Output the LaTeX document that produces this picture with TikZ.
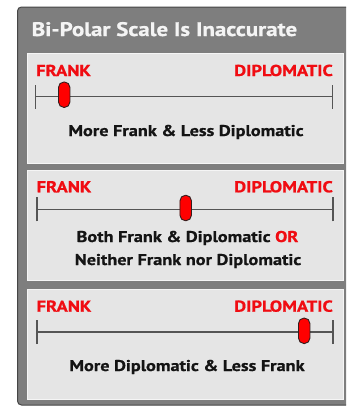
\documentclass[tikz,border=0pt]{standalone}
\usepackage{fontspec}
\setmainfont[FakeStretch=1.17, BoldFeatures={FakeBold=0.8}]{PT Sans}
\definecolor{outergray}{RGB}{126,126,126}
\definecolor{outerline}{RGB}{70,70,70}
\definecolor{panelgray}{RGB}{229,229,229}
\definecolor{panelline}{RGB}{245,245,245}
\definecolor{labelred}{RGB}{240,12,18}
\definecolor{titlewhite}{RGB}{244,244,244}
\definecolor{scaleline}{RGB}{85,85,85}
\definecolor{knobline}{RGB}{50,30,30}
\definecolor{bodyblack}{RGB}{20,20,20}
\tikzset{
  panelbox/.style={fill=panelgray, draw=panelline, line width=1pt},
  redlabel/.style={text=labelred, font=\fontsize{15.8}{18}\selectfont\bfseries, inner sep=0pt},
  bodytext/.style={text=bodyblack, font=\fontsize{15.6}{23}\selectfont\bfseries, inner sep=0pt, align=center},
  scalestroke/.style={draw=scaleline, line width=1.3pt},
  knobnode/.style={shape=rectangle, rounded corners=5.5pt, fill=red, draw=knobline, line width=0.9pt, minimum width=11.5pt, minimum height=25.5pt, inner sep=0pt},
}
\begin{document}
\begin{tikzpicture}[x=1pt,y=-1pt]
\useasboundingbox[fill=white] (0,0) rectangle (346,407);
\begin{scope}
\clip (0,0) rectangle (346,407);
\draw[fill=outergray, draw=outerline, line width=1pt, rounded corners=4pt] (17.5,7) rectangle (352,405);
\end{scope}
\node[anchor=base west, text=titlewhite, font=\fontsize{19.6}{22}\selectfont\bfseries, inner sep=0pt] (title) at (31.5,36) {Bi-Polar Scale Is Inaccurate};
% panel 1
\path[panelbox] (27,53) rectangle (343,163);
\node[redlabel, anchor=base west] (f1) at (36,76) {FRANK};
\node[redlabel, anchor=base east] (d1) at (333,76) {DIPLOMATIC};
\coordinate (l1a) at (35.7,96.5);
\coordinate (l1b) at (332.5,96.5);
\draw[scalestroke] (l1a) -- (l1b);
\draw[scalestroke] ([yshift=-12pt]l1a) -- ([yshift=12pt]l1a);
\draw[scalestroke] ([yshift=-12pt]l1b) -- ([yshift=12pt]l1b);
\node[knobnode] (k1) at (64.2,94.7) {};
\node[bodytext, anchor=base] (t1) at (186,136) {More Frank \& Less Diplomatic};
% panel 2
\path[panelbox] (27,170) rectangle (343,280);
\node[redlabel, anchor=base west] (f2) at (36.5,192.3) {FRANK};
\node[redlabel, anchor=base east] (d2) at (333,192.3) {DIPLOMATIC};
\coordinate (l2a) at (37,209.3);
\coordinate (l2b) at (333,209.3);
\draw[scalestroke] (l2a) -- (l2b);
\draw[scalestroke] ([yshift=-12pt]l2a) -- ([yshift=12pt]l2a);
\draw[scalestroke] ([yshift=-12pt]l2b) -- ([yshift=12pt]l2b);
\node[knobnode] (k2) at (185.7,208) {};
\node[bodytext, anchor=base] (t2a) at (187.5,242) {Both Frank \& Diplomatic \textcolor{labelred}{OR}};
\node[bodytext, anchor=base] (t2b) at (188,265) {Neither Frank nor Diplomatic};
% panel 3
\path[panelbox] (27,289) rectangle (343,399);
\node[redlabel, anchor=base west] (f3) at (36.5,311.7) {FRANK};
\node[redlabel, anchor=base east] (d3) at (333,311.7) {DIPLOMATIC};
\coordinate (l3a) at (37,332);
\coordinate (l3b) at (333,332);
\draw[scalestroke] (l3a) -- (l3b);
\draw[scalestroke] ([yshift=-12pt]l3a) -- ([yshift=12pt]l3a);
\draw[scalestroke] ([yshift=-12pt]l3b) -- ([yshift=12pt]l3b);
\node[knobnode] (k3) at (304.2,330.8) {};
\node[bodytext, anchor=base] (t3) at (187,371) {More Diplomatic \& Less Frank};
\end{tikzpicture}
\end{document}
